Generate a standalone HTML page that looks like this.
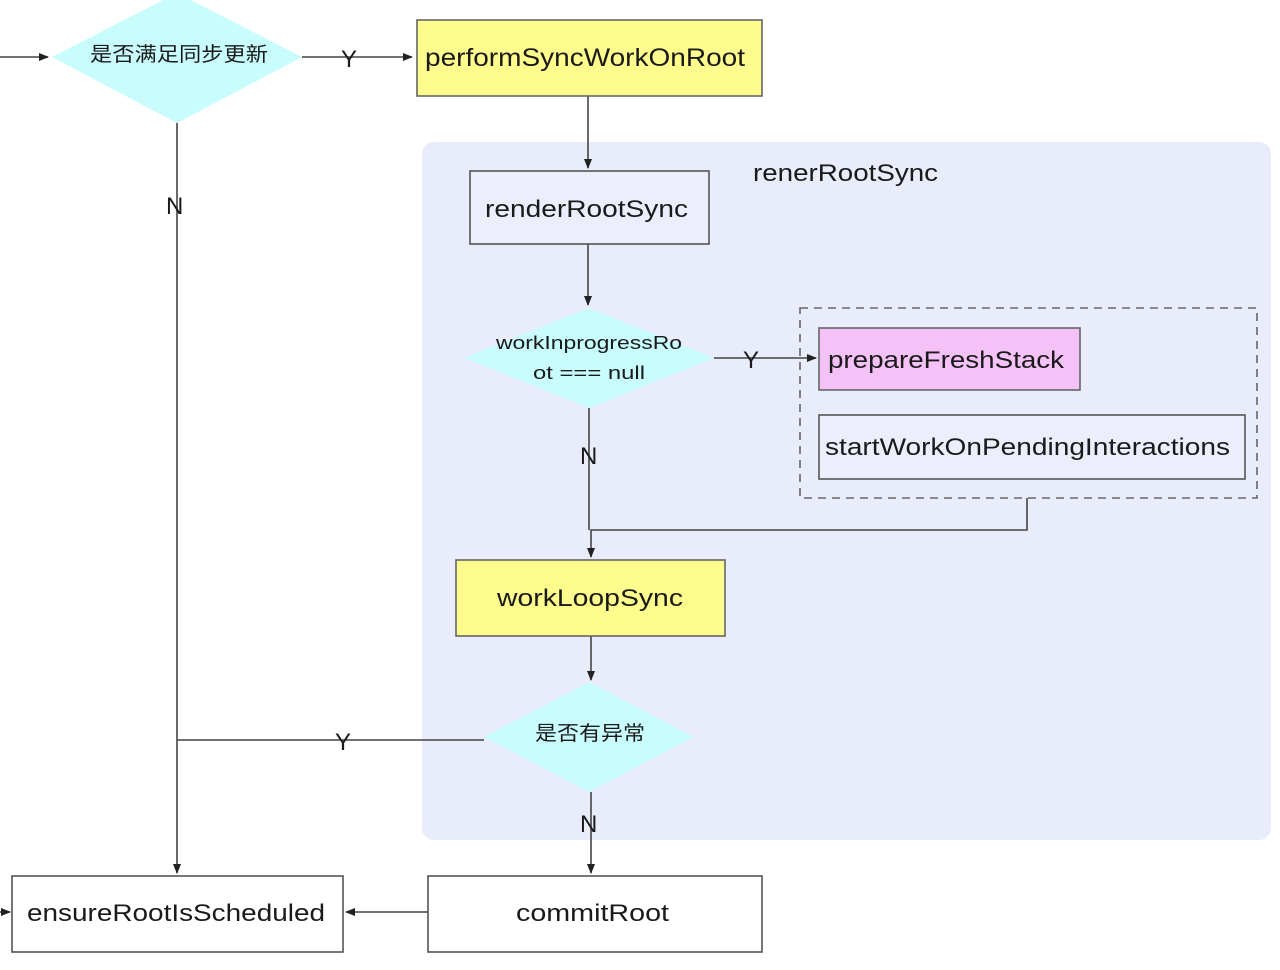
<!DOCTYPE html>
<html><head><meta charset="utf-8"><style>
html,body{margin:0;padding:0;background:#fff;}
svg{display:block;font-family:"Liberation Sans","Noto Sans CJK SC",sans-serif;}
</style></head><body>
<svg width="1280" height="970" viewBox="0 0 1280 970" xmlns="http://www.w3.org/2000/svg">
<defs><marker id="a" markerWidth="10" markerHeight="8" refX="9" refY="4" orient="auto" markerUnits="userSpaceOnUse"><path d="M0,0 L10,4 L0,8 Z" fill="#222"/></marker></defs>
<rect x="422" y="142" width="849" height="698" rx="12" fill="#e9ecfb"/>
<g stroke="#444" stroke-width="1.6" fill="none">
<line x1="0" y1="57" x2="48" y2="57" marker-end="url(#a)"/>
<line x1="302" y1="57" x2="412" y2="57" marker-end="url(#a)"/>
<line x1="588" y1="96" x2="588" y2="168" marker-end="url(#a)"/>
<line x1="588" y1="244" x2="588" y2="305" marker-end="url(#a)"/>
<line x1="714" y1="358" x2="816" y2="358" marker-end="url(#a)"/>
<line x1="589" y1="408" x2="589" y2="530"/>
<polyline points="1027,498 1027,530 591,530 591,557" marker-end="url(#a)"/>
<line x1="591" y1="636" x2="591" y2="680" marker-end="url(#a)"/>
<polyline points="484,740 177,740"/>
<line x1="177" y1="123" x2="177" y2="873" marker-end="url(#a)"/>
<line x1="591" y1="792" x2="591" y2="873" marker-end="url(#a)"/>
<line x1="428" y1="912" x2="346" y2="912" marker-end="url(#a)"/>
<line x1="0" y1="912" x2="10" y2="912" marker-end="url(#a)"/>
</g>
<polygon points="177,-7 302,57 177,123 52,57" fill="#c8fcfd"/>
<polygon points="589,308 714,358 589,408 464,358" fill="#c8fcfd"/>
<polygon points="589,682 694,737 589,792 484,737" fill="#c8fcfd"/>
<rect x="417" y="20" width="345" height="76" fill="#fdfc8c" stroke="#666" stroke-width="1.6"/>
<rect x="470" y="171" width="239" height="73" fill="#eceefd" stroke="#555" stroke-width="1.6"/>
<rect x="800" y="308" width="457" height="190" fill="none" stroke="#666" stroke-width="1.6" stroke-dasharray="8,6"/>
<rect x="819" y="328" width="261" height="62" fill="#f5c2f7" stroke="#666" stroke-width="1.6"/>
<rect x="819" y="415" width="426" height="64" fill="#eceefd" stroke="#555" stroke-width="1.6"/>
<rect x="456" y="560" width="269" height="76" fill="#fdfc8c" stroke="#666" stroke-width="1.6"/>
<rect x="12" y="876" width="331" height="76" fill="#fff" stroke="#555" stroke-width="1.6"/>
<rect x="428" y="876" width="334" height="76" fill="#fff" stroke="#555" stroke-width="1.6"/>
<g fill="#1a1a1a" lengthAdjust="spacingAndGlyphs">
<text x="90" y="61" font-size="20" textLength="178" lengthAdjust="spacingAndGlyphs">是否满足同步更新</text>
<text x="341" y="67" font-size="24">Y</text>
<text x="166" y="214" font-size="24">N</text>
<text x="425" y="66" font-size="25" textLength="320" lengthAdjust="spacingAndGlyphs">performSyncWorkOnRoot</text>
<text x="753" y="181" font-size="24" textLength="185" lengthAdjust="spacingAndGlyphs">renerRootSync</text>
<text x="485" y="217" font-size="24" textLength="203" lengthAdjust="spacingAndGlyphs">renderRootSync</text>
<text x="496" y="349" font-size="18" textLength="186" lengthAdjust="spacingAndGlyphs">workInprogressRo</text>
<text x="533" y="379" font-size="18" textLength="112" lengthAdjust="spacingAndGlyphs">ot === null</text>
<text x="743" y="368" font-size="24">Y</text>
<text x="580" y="464" font-size="24">N</text>
<text x="828" y="368" font-size="24" textLength="236" lengthAdjust="spacingAndGlyphs">prepareFreshStack</text>
<text x="825" y="455" font-size="24" textLength="405" lengthAdjust="spacingAndGlyphs">startWorkOnPendingInteractions</text>
<text x="497" y="606" font-size="24" textLength="186" lengthAdjust="spacingAndGlyphs">workLoopSync</text>
<text x="535" y="740" font-size="20" textLength="110" lengthAdjust="spacingAndGlyphs">是否有异常</text>
<text x="335" y="750" font-size="24">Y</text>
<text x="580" y="832" font-size="24">N</text>
<text x="27" y="921" font-size="24" textLength="298" lengthAdjust="spacingAndGlyphs">ensureRootIsScheduled</text>
<text x="516" y="921" font-size="24" textLength="153" lengthAdjust="spacingAndGlyphs">commitRoot</text>
</g>
</svg>
</body></html>
